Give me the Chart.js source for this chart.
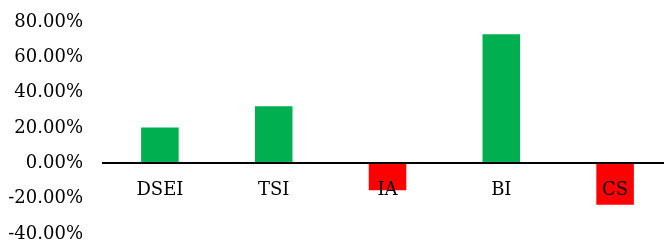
<!DOCTYPE html>
<html>
<head>
<meta charset="utf-8">
<script src="https://cdn.jsdelivr.net/npm/chart.js@4"></script>
<style>
  html, body { margin: 0; padding: 0; overflow: hidden; background: #fff; }
  #wrap { width: 672px; height: 246px; position: relative; }
</style>
</head>
<body>
<div id="wrap"><canvas id="retChart"></canvas></div>
<script>
const categories = ['DSEI', 'TSI', 'IA', 'BI', 'CS'];
const returns = [20.3, 32.3, -15.3, 73.0, -23.4];
const yTicks = [-40, -20, 0, 20, 40, 60, 80];

const GREEN = '#00B050';
const RED = '#FF0000';
const FONT = { family: '"DejaVu Serif", serif', size: 18 };

const ctx = document.getElementById('retChart');

new Chart(ctx, {
    type: 'bar',
    data: {
        labels: categories,
        datasets: [{
            data: returns,
            backgroundColor: returns.map(v => v >= 0 ? GREEN : RED),
            barPercentage: 0.33,
            categoryPercentage: 1
        }]
    },
    options: {
        responsive: true,
        maintainAspectRatio: false,
        animation: false,
        layout: { padding: { left: 8, right: 0, top: 22, bottom: 12 } },
        plugins: { legend: { display: false }, tooltip: { enabled: false } },
        scales: {
            x: {
                position: { y: 0 },
                grid: { display: false, drawTicks: false },
                border: { display: true, color: '#000', width: 2, z: 1 },
                // labels sit on top of the negative bars
                ticks: { color: '#000', font: FONT, padding: 16, maxRotation: 0, autoSkip: false, z: 1 }
            },
            y: {
                min: yTicks[0],
                max: yTicks[yTicks.length - 1],
                afterBuildTicks: axis => { axis.ticks = yTicks.map(v => ({ value: v })); },
                // keep the label column fixed and let layout padding set the plot area
                afterFit: axis => {
                    axis.width = 95;
                    axis.paddingTop = 0;
                    axis.paddingBottom = 0;
                },
                grid: { display: false, drawTicks: false },
                border: { display: false },
                ticks: {
                    color: '#000',
                    font: FONT,
                    padding: 20,
                    callback: v => v.toFixed(2) + '%'
                }
            }
        }
    }
});
</script>
</body>
</html>
